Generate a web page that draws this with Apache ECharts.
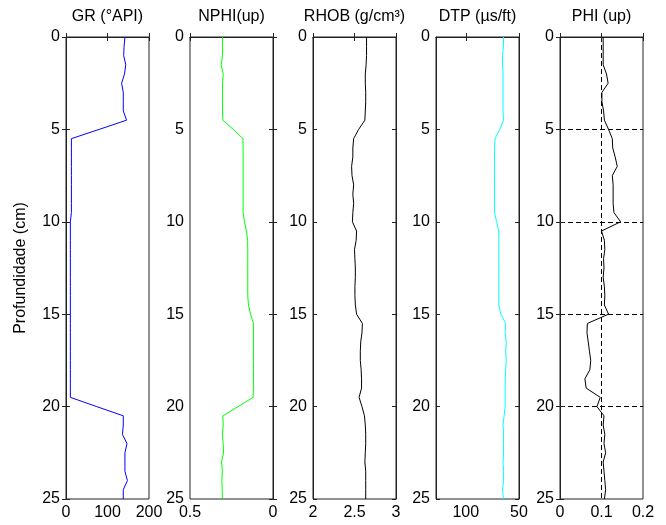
<!DOCTYPE html>
<html>
<head>
<meta charset="utf-8">
<script src="https://cdn.jsdelivr.net/npm/echarts@6/dist/echarts.min.js"></script>
<style>
  html, body { margin: 0; padding: 0; background: #fff; }
  #main { width: 666px; height: 525px; }
</style>
</head>
<body>
<div id="main"></div>
<script>
// profundidade (cm), amostrada a cada 0.5
const depth = [0, 0.5, 1, 1.5, 2, 2.5, 3, 3.5, 4, 4.5, 5, 5.5, 6, 6.5, 7, 7.5, 8, 8.5, 9, 9.5,
  10, 10.5, 11, 11.5, 12, 12.5, 13, 13.5, 14, 14.5, 15, 15.5, 16, 16.5, 17, 17.5, 18, 18.5, 19, 19.5,
  20, 20.5, 21, 21.5, 22, 22.5, 23, 23.5, 24, 24.5, 25];

const gr = [142, 140, 139, 144, 141, 134, 138, 138, 138, 146, 80, 13, 13, 13, 13, 13, 13, 13, 13, 13,
  10.5, 10.5, 10.5, 10.5, 10.5, 10.5, 10.5, 10.5, 10.5, 10.5, 10.5, 10.5, 10.5, 10.5, 10.5, 10.5, 10.5, 10.5, 10.5, 10.5,
  74, 138, 138, 136, 147, 142, 142, 142, 148, 138, 138];

const nphi = [0.304, 0.304, 0.304, 0.312, 0.300, 0.304, 0.304, 0.304, 0.304, 0.302, 0.240, 0.181, 0.180, 0.180, 0.180, 0.180, 0.180, 0.180, 0.180, 0.180,
  0.172, 0.160, 0.153, 0.152, 0.152, 0.152, 0.152, 0.152, 0.152, 0.148, 0.135, 0.118, 0.118, 0.118, 0.118, 0.118, 0.118, 0.118, 0.118, 0.120,
  0.210, 0.302, 0.300, 0.305, 0.300, 0.298, 0.310, 0.305, 0.308, 0.306, 0.305];

const rhob = [2.645, 2.645, 2.645, 2.640, 2.630, 2.630, 2.635, 2.635, 2.630, 2.625, 2.550, 2.490, 2.480, 2.480, 2.465, 2.470, 2.490, 2.480, 2.490, 2.480,
  2.475, 2.525, 2.520, 2.500, 2.505, 2.510, 2.510, 2.505, 2.505, 2.510, 2.525, 2.595, 2.590, 2.575, 2.570, 2.570, 2.580, 2.585, 2.585, 2.555,
  2.590, 2.620, 2.630, 2.635, 2.635, 2.630, 2.625, 2.635, 2.635, 2.635, 2.635];

const dtp = [64.6, 64.6, 65.5, 65.5, 65, 65, 65, 65, 65, 64.6, 68, 72.5, 73, 73, 73, 73, 73, 73, 73, 73,
  71, 69, 69, 69, 69, 69, 69, 69, 69, 69, 67, 62.5, 63, 62, 62.5, 62, 62.5, 63, 63, 63,
  63, 64, 65, 64.5, 64.5, 64.5, 65, 64.5, 64.5, 65.5, 64.6];

const phi = [0.104, 0.104, 0.104, 0.104, 0.112, 0.116, 0.101, 0.101, 0.105, 0.107, 0.117, 0.126, 0.127, 0.133, 0.138, 0.126, 0.128, 0.128, 0.128, 0.130,
  0.146, 0.100, 0.107, 0.108, 0.105, 0.106, 0.104, 0.107, 0.108, 0.107, 0.117, 0.066, 0.065, 0.068, 0.071, 0.074, 0.072, 0.060, 0.063, 0.097,
  0.089, 0.106, 0.104, 0.108, 0.106, 0.110, 0.104, 0.106, 0.108, 0.110, 0.107];

const titles = ['GR (°API)', 'NPHI(up)', 'RHOB (g/cm³)', 'DTP (µs/ft)', 'PHI (up)'];
const curves = [gr, nphi, rhob, dtp, phi];
const colors = ['#0000ff', '#00ff00', '#000000', '#00ffff', '#000000'];
// limites do eixo x
const xMin = [0, 0, 2, 50, 0];
const xMax = [200, 0.5, 3, 128, 0.2];
const xStep = [100, 0.5, 0.5, 50, 0.1];
const xInverse = [false, true, false, true, false];

const lefts = [66, 190, 313, 436, 560];
const font = 'Liberation Sans';
const fs = 16;

let grids = [], xAxes = [], yAxes = [], series = [];
for (let i = 0; i < 5; i++) {
  grids.push({
    left: lefts[i], top: 37, width: 83, height: 462,
    show: true, borderColor: '#222', borderWidth: 1, backgroundColor: '#fff'
  });
  const isPhi = i === 4;
  // grade tracejada só no PHI, sem as linhas da borda
  const grade = {
    show: isPhi, showMinLine: false, showMaxLine: false,
    lineStyle: { color: '#000', type: [5, 3], width: 1 }
  };
  const xBase = {
    type: 'value', gridIndex: i, min: xMin[i], max: xMax[i], interval: xStep[i],
    inverse: xInverse[i],
    axisLine: { show: true, lineStyle: { color: '#222' } },
    axisTick: { show: true, inside: true, length: 4, lineStyle: { color: '#222' } },
    splitLine: { show: false }
  };
  xAxes.push(Object.assign({}, xBase, {
    position: 'bottom',
    axisLabel: { show: true, color: '#000', fontFamily: font, fontSize: fs, margin: 6, showMaxLabel: i !== 3 },
    splitLine: grade
  }));
  xAxes.push(Object.assign({}, xBase, {
    position: 'top',
    axisLabel: { show: false },
    name: titles[i], nameLocation: 'middle', nameGap: 12,
    nameTextStyle: { color: '#000', fontFamily: font, fontSize: fs }
  }));
  const yBase = {
    type: 'value', gridIndex: i, min: 0, max: 25, interval: 5, inverse: true,
    axisLine: { show: true, lineStyle: { color: '#222' } },
    axisTick: { show: true, inside: true, length: 4, lineStyle: { color: '#222' } },
    splitLine: { show: false }
  };
  yAxes.push(Object.assign({}, yBase, {
    position: 'left',
    axisLabel: { show: true, color: '#000', fontFamily: font, fontSize: fs, margin: 6 },
    splitLine: grade,
    name: i === 0 ? 'Profundidade (cm)' : '', nameLocation: 'middle', nameGap: 37,
    nameTextStyle: { color: '#000', fontFamily: font, fontSize: fs }
  }));
  yAxes.push(Object.assign({}, yBase, {
    position: 'right',
    axisLabel: { show: false }
  }));
  series.push({
    type: 'line',
    xAxisIndex: 2 * i, yAxisIndex: 2 * i,
    data: curves[i].map((v, k) => [v, depth[k]]),
    showSymbol: false,
    lineStyle: { color: colors[i], width: 1 },
    itemStyle: { color: colors[i] }
  });
}

const myChart = echarts.init(document.getElementById('main'));
myChart.setOption({
  animation: false,
  backgroundColor: '#fff',
  grid: grids,
  xAxis: xAxes,
  yAxis: yAxes,
  series: series
});
</script>
</body>
</html>
